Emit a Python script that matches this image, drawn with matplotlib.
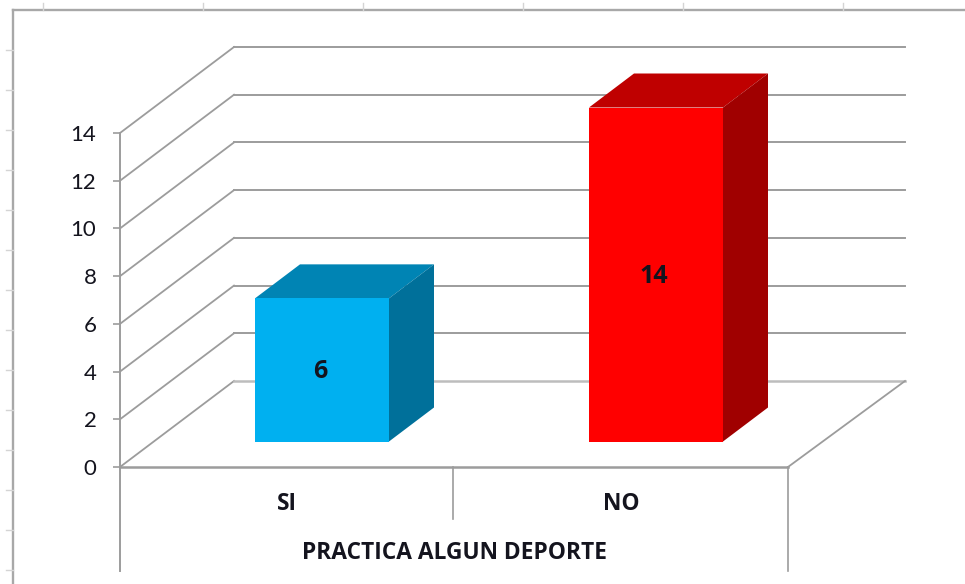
import matplotlib
matplotlib.use("Agg")
import matplotlib.pyplot as plt
from matplotlib.lines import Line2D
from matplotlib.patches import Polygon
from matplotlib.transforms import Affine2D

# values
categories = ["SI", "NO"]
values = [6, 14]
y_ticks = [0, 2, 4, 6, 8, 10, 12, 14]
axis_title = "PRACTICA ALGUN DEPORTE"

front_colors = ["#00B0F0", "#FF0000"]
top_colors = ["#0084B4", "#BF0000"]
side_colors = ["#00709A", "#A00000"]

W, H = 965, 584
GRID = "#9C9C9C"
TEXT = "#14141E"
BOLD_FONT = ["Open Sans", "DejaVu Sans"]

plt.rcParams["font.family"] = ["Lato", "DejaVu Sans"]

fig = plt.figure(figsize=(W / 100, H / 100), dpi=100, facecolor="white")

# front plane of the chart: x 120..788, y 467..133 in image pixels
ax = fig.add_axes([120 / W, 1 - 467 / H, 668 / W, 334 / H])
ax.set_xlim(0, 2)
ax.set_ylim(0, 14)
ax.patch.set_visible(False)

# image pixels, y going down
px = Affine2D().scale(1, -1).translate(0, H)


def chrome(xs, ys, color=GRID, lw=1.4):
    fig.add_artist(Line2D(xs, ys, transform=px, color=color, lw=lw, zorder=1))


# pixel -> data scale, used for the oblique offsets of the 3D look
sx = 2 / 668
sy = 14 / 334
back_dx, back_dy = 114, 86
bar_dx, bar_dy = 45, 34
shift_dx, shift_dy = 35, 25.5
bar_width = 134 * sx

# outer frame with its stray ticks
chrome([13, 13], [10, H], color="#A8A8A8", lw=1.7)
chrome([13, W], [10, 10], color="#A8A8A8", lw=1.7)
for x in [43, 203, 363, 523, 683, 843]:
    chrome([x, x], [3, 10], color="#D4D4D4", lw=1)
for y in range(50, 580, 40):
    chrome([6, 13], [y, y], color="#D4D4D4", lw=1)

# walls: diagonal + back line for each tick value
for v in y_ticks:
    x0, y0 = 0, v
    x1, y1 = back_dx * sx, v + back_dy * sy
    x2 = 2 + (905 - 788) * sx
    color = "#BDBDBD" if v == 0 else GRID
    ax.plot([x0, x1], [y0, y1], color=GRID, lw=1.3, clip_on=False, zorder=1)
    ax.plot([x1, x2], [y1, y1], color=color, lw=1.8 if v == 0 else 1.4,
            clip_on=False, zorder=1)

# floor edge on the right and the category dividers
chrome([788, 905], [467, 381], lw=1.3)
chrome([120, 120], [133, 571])
chrome([453, 453], [467, 519], lw=1.2)
chrome([788, 788], [467, 571], lw=1.2)

# bars
centers = [i + 0.5 + shift_dx * sx for i in range(len(values))]
base = shift_dy * sy
bars = ax.bar(centers, values, width=bar_width, bottom=base, color=front_colors,
              clip_on=False, zorder=4)

for rect, top_c, side_c, v in zip(bars, top_colors, side_colors, values):
    left = rect.get_x()
    right = left + rect.get_width()
    low = rect.get_y()
    high = low + rect.get_height()
    ddx = bar_dx * sx
    ddy = bar_dy * sy
    ax.add_patch(Polygon([(left, high), (right, high), (right + ddx, high + ddy), (left + ddx, high + ddy)],
                         facecolor=top_c, edgecolor="none", clip_on=False, zorder=3))
    ax.add_patch(Polygon([(right, low), (right + ddx, low + ddy), (right + ddx, high + ddy), (right, high)],
                         facecolor=side_c, edgecolor="none", clip_on=False, zorder=3))
    # value label in the middle of the front face
    ax.text(left + rect.get_width() / 2 - 2 * sx, (low + high) / 2 - 2 * sy, str(v), ha="center", va="center",
            fontsize=18, fontweight="bold", family=BOLD_FONT, color=TEXT, zorder=5)

# axes and labels
for name in ["top", "right", "left"]:
    ax.spines[name].set_visible(False)
ax.spines["bottom"].set_color(GRID)
ax.spines["bottom"].set_linewidth(1.8)
ax.spines["bottom"].set_zorder(2)

ax.set_yticks(y_ticks)
ax.tick_params(axis="y", length=5, width=1.2, color=GRID, pad=12, labelsize=16, labelcolor=TEXT)
ax.set_xticks([0.5, 1.5])
ax.set_xticklabels(categories, fontweight="bold", fontsize=16.4, color=TEXT, family=BOLD_FONT)
ax.tick_params(axis="x", length=0, pad=18)

ax.set_xlabel(axis_title, fontweight="bold", fontsize=16.4, color=TEXT, va="center", family=BOLD_FONT)
ax.xaxis.set_label_coords(0.5, -86 / 334)

fig.savefig("out.png", dpi=100, facecolor="white")
